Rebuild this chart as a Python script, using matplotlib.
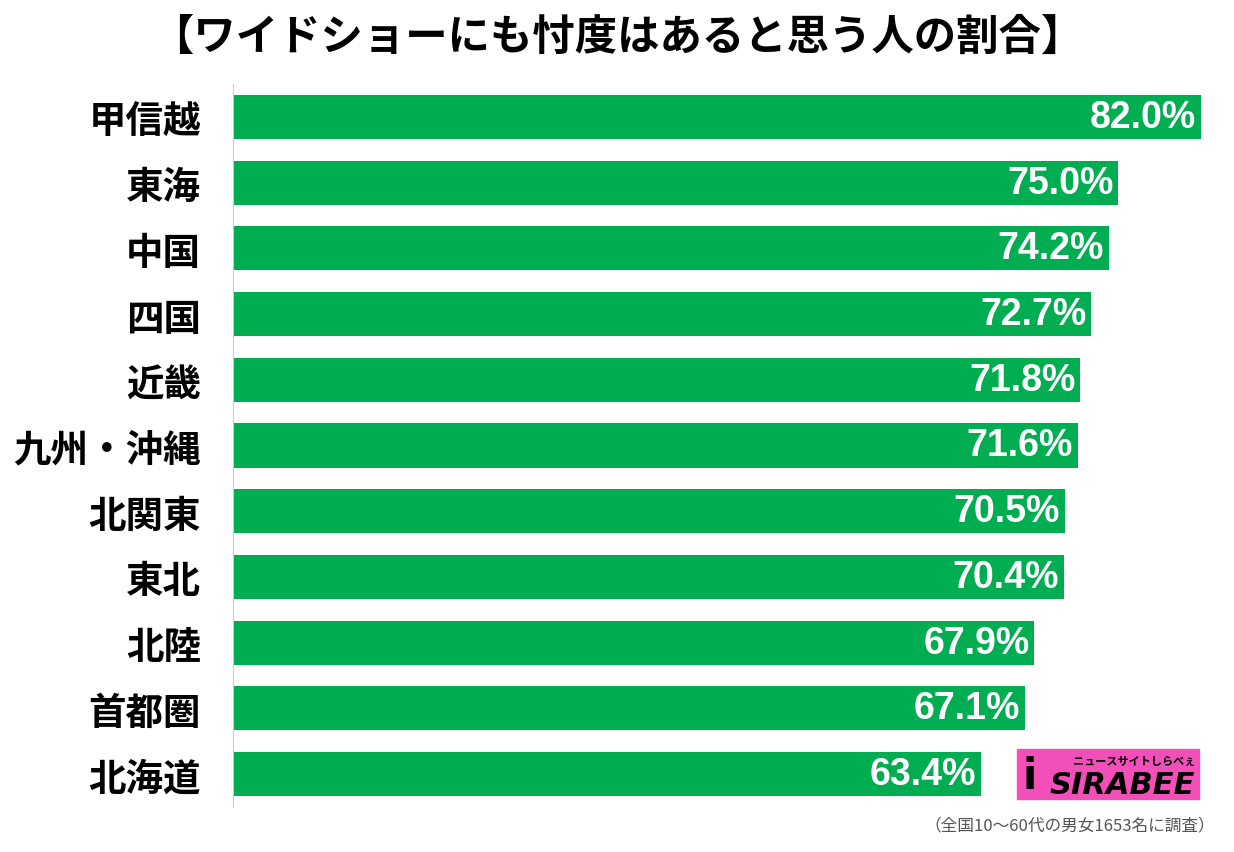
import matplotlib
matplotlib.use('Agg')
import matplotlib.pyplot as plt
from matplotlib.patches import Rectangle

plt.rcParams['font.family'] = ['Noto Sans CJK JP', 'DejaVu Sans']

# データ
regions = ['甲信越', '東海', '中国', '四国', '近畿', '九州・沖縄',
           '北関東', '東北', '北陸', '首都圏', '北海道']
values = [82.0, 75.0, 74.2, 72.7, 71.8, 71.6, 70.5, 70.4, 67.9, 67.1, 63.4]

title = '【ワイドショーにも忖度はあると思う人の割合】'
note = '（全国10〜60代の男女1653名に調査）'

W, H = 1234, 853
fig = plt.figure(figsize=(W / 100, H / 100), dpi=100)
ax = fig.add_axes([233 / W, 45 / H, (W - 233) / W, 723 / H])

y = list(range(len(regions)))
ax.barh(y, values, height=0.67, color='#00ad50')
ax.set_xlim(0, (W - 233) / 11.8)
ax.set_ylim(len(regions) - 0.5, -0.5)

for i, v in enumerate(values):
    ax.text(v - 0.4, i, f'{v:.1f}%', color='white', ha='right', va='center',
            fontsize=27, fontweight='bold', family='Liberation Sans')

ax.set_yticks(y)
ax.set_yticklabels(regions, fontsize=27, fontweight='bold')
ax.tick_params(axis='y', length=0, pad=23)
ax.set_xticks([])
for s in ['top', 'right', 'bottom']:
    ax.spines[s].set_visible(False)
ax.spines['left'].set_color('#cccccc')

fig.text(617 / W, 1 - 38 / H, title, ha='center', va='center',
         fontsize=30.5, fontweight='bold')
fig.text(1215 / W, 1 - 826 / H, note, ha='right', va='center',
         fontsize=12, color='#555555')

# ロゴ
fig.patches.append(Rectangle((1017 / W, 1 - 800 / H), 182 / W, 50 / H,
                             transform=fig.transFigure, color='#f24fb9'))
fig.text(1195 / W, 1 - 786 / H, 'SIRABEE', ha='right', va='center',
         fontsize=22, fontweight='bold', style='italic', family='DejaVu Sans')
fig.text(1195 / W, 1 - 761 / H, 'ニュースサイトしらべぇ', ha='right', va='center',
         fontsize=8, fontweight='bold', style='italic')
fig.text(1030 / W, 1 - 777 / H, 'i', ha='center', va='center',
         fontsize=30, fontweight='bold', family='DejaVu Sans')

fig.savefig('out.png', dpi=100)
